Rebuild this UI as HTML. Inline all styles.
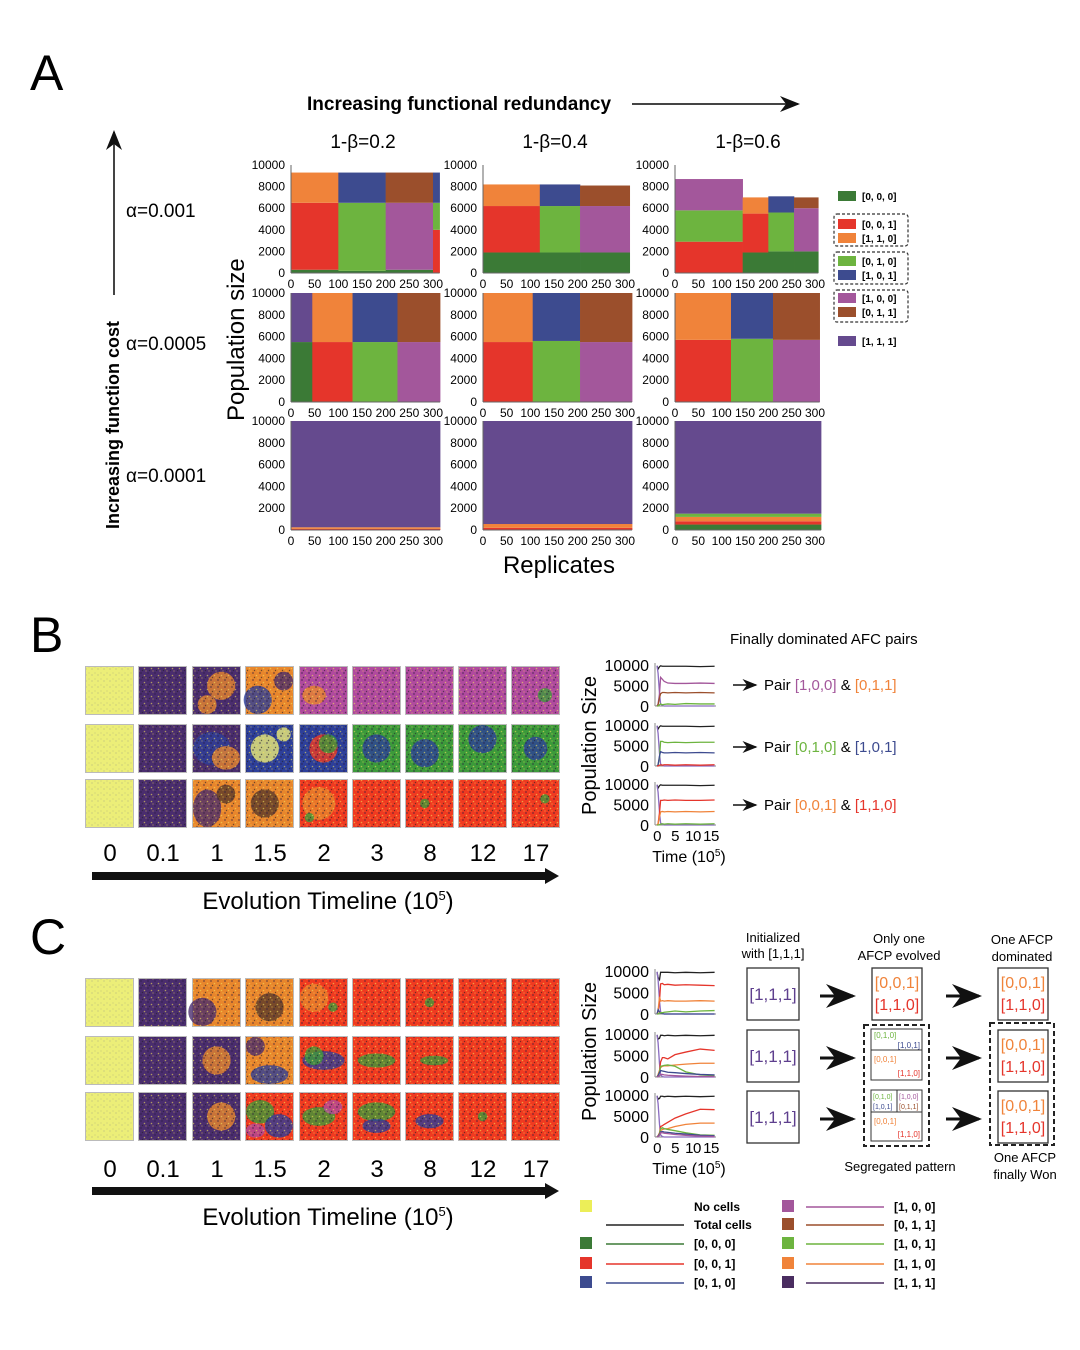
<!DOCTYPE html>
<html><head><meta charset="utf-8"><style>
body{margin:0;background:#fff}
svg{display:block;font-family:"Liberation Sans",sans-serif}
</style></head><body>
<svg id="fig" width="1080" height="1350" viewBox="0 0 1080 1350" xmlns="http://www.w3.org/2000/svg">
<defs>
<pattern id="spk" width="7" height="7" patternUnits="userSpaceOnUse"><circle cx="1" cy="1" r="0.9" fill="#2a1a40"/><circle cx="4.5" cy="3.5" r="0.8" fill="#f3e35a"/><circle cx="2.5" cy="5.5" r="0.7" fill="#222"/><circle cx="6" cy="6" r="0.6" fill="#f2d45a"/></pattern>
<pattern id="spkY" width="6" height="6" patternUnits="userSpaceOnUse"><circle cx="2" cy="3" r="0.5" fill="#888"/><circle cx="5" cy="1" r="0.4" fill="#777"/></pattern>
<marker id="ah" markerWidth="10" markerHeight="8" refX="9" refY="4" orient="auto"><path d="M0,0 L10,4 L0,8 L3,4 Z" fill="#111"/></marker>
</defs>
<g id="static">
<text x="30" y="90" font-size="50">A</text>
<text x="30" y="652" font-size="50">B</text>
<text x="30" y="954" font-size="50">C</text>
<text x="307" y="110" font-size="19" font-weight="bold">Increasing functional redundancy</text>
<line x1="632" y1="104" x2="798" y2="104" stroke="#444" stroke-width="2" marker-end="url(#ah)"/>
<line x1="114" y1="295" x2="114" y2="132" stroke="#444" stroke-width="2" marker-end="url(#ah)"/>
<text transform="translate(119,529) rotate(-90)" font-size="18" font-weight="bold">Increasing function cost</text>
<text x="126" y="217" font-size="19">α=0.001</text>
<text x="126" y="350" font-size="19">α=0.0005</text>
<text x="126" y="482" font-size="19">α=0.0001</text>
<text x="363" y="148" font-size="19" text-anchor="middle">1-β=0.2</text>
<text x="555" y="148" font-size="19" text-anchor="middle">1-β=0.4</text>
<text x="748" y="148" font-size="19" text-anchor="middle">1-β=0.6</text>
<text transform="translate(244,421) rotate(-90)" font-size="24">Population size</text>
<text x="559" y="573" font-size="24" text-anchor="middle">Replicates</text>
<text x="730" y="644" font-size="15">Finally dominated AFC pairs</text>
<text x="773" y="942" font-size="13" text-anchor="middle">Initialized</text>
<text x="773" y="958" font-size="13" text-anchor="middle">with [1,1,1]</text>
<text x="899" y="943" font-size="13" text-anchor="middle">Only one</text>
<text x="899" y="960" font-size="13" text-anchor="middle">AFCP evolved</text>
<text x="1022" y="944" font-size="13" text-anchor="middle">One AFCP</text>
<text x="1022" y="961" font-size="13" text-anchor="middle">dominated</text>
<text x="900" y="1171" font-size="13" text-anchor="middle">Segregated pattern</text>
<text x="1025" y="1162" font-size="13" text-anchor="middle">One AFCP</text>
<text x="1025" y="1179" font-size="13" text-anchor="middle">finally Won</text>
</g>
<g id="dyn"></g>
</svg>
<script>
// ---------- Panel A data ----------
const typeColors={d:'#3b7a36',r:'#e5352b',o:'#f0833a',g:'#6db43f',b:'#3d4b8f',m:'#a3579b',n:'#9b4f2c',p:'#654a8e'};
const aYTicks=[0,2000,4000,6000,8000,10000];
const aXTicks=[0,50,100,150,200,250,300];
const edgesR1C1=[0,100,200,300,314];
const layersR1C1=[[['d',300],['r',6200],['o',2800]],[['d',200],['g',6300],['b',2800]],[['d',300],['m',6200],['n',2800]],[['r',4000],['g',2500],['b',2800]]];
const edgesR1C2=[0,120,205,310];
const layersR1C2=[[['d',1900],['r',4300],['o',2000]],[['d',1900],['g',4300],['b',2000]],[['d',1900],['m',4300],['n',1900]]];
const edgesR1C3=[0,145,200,255,307];
const layersR1C3=[[['r',2900],['g',2900],['m',2900]],[['d',1900],['r',3600],['o',1500]],[['d',2000],['g',3600],['b',1500]],[['d',2000],['m',4000],['n',1000]]];
const edgesR2C1=[0,45,130,225,315];
const layersR2C1=[[['d',5500],['p',4500]],[['r',5500],['o',4500]],[['g',5500],['b',4500]],[['m',5500],['n',4500]]];
const edgesR2C2=[0,105,205,315];
const layersR2C2=[[['r',5500],['o',4500]],[['g',5600],['b',4400]],[['m',5500],['n',4500]]];
const edgesR2C3=[0,120,210,310];
const layersR2C3=[[['r',5700],['o',4300]],[['g',5800],['b',4200]],[['m',5700],['n',4300]]];
const edgesR3C1=[0,315];
const layersR3C1=[[['r',100],['o',150],['p',9750]]];
const edgesR3C2=[0,315];
const layersR3C2=[[['r',200],['o',350],['p',9450]]];
const edgesR3C3=[0,313];
const layersR3C3=[[['d',500],['r',300],['o',400],['g',300],['p',8500]]];

// ---------- mini line chart data ----------
const miniT=[0,0.3,0.7,1,1.5,2,3,5,8,12,16];
const miniYTicks=[0,5000,10000];
const miniXTicks=[0,5,10,15];
const lineColors={total:'#222',d:'#3b7a36',r:'#e5352b',o:'#f0833a',g:'#6db43f',b:'#3d4b8f',m:'#a3579b',n:'#9b4f2c',p:'#8a6cc0'};
const b1={total:[9800,9000,9600,9800,9700,9700,9700,9700,9700,9600,9700],p:[9800,8000,3000,500,100,0,0,0,0,0,0],m:[0,500,3000,7000,6500,6000,5600,5500,5500,5600,5500],n:[0,300,2000,3000,3300,3300,3200,3300,3200,3300,3200],g:[0,0,300,500,300,400,500,400,600,500,500]};
const b2={total:[9800,9000,9600,9800,9700,9700,9700,9700,9700,9600,9700],p:[9800,8000,3000,500,100,0,0,0,0,0,0],g:[0,300,2000,6000,6000,5800,5700,5800,5700,5800,5800],b:[0,300,2500,3500,3300,3200,3200,3300,3200,3300,3200],r:[0,0,200,300,200,300,300,200,300,200,300]};
const b3={total:[9800,9000,9600,9800,9700,9700,9700,9700,9700,9600,9700],p:[9800,8000,3000,500,100,0,0,0,0,0,0],r:[0,300,3000,6000,6000,6100,6000,6100,6000,6000,6100],o:[0,300,2000,3200,3300,3200,3300,3200,3300,3200,3300],g:[0,0,100,200,300,200,300,200,300,200,300]};
const c1={total:[9800,8500,8000,9700,9700,9700,9700,9600,9700,9600,9700],p:[9800,8000,3000,500,100,0,0,0,0,0,0],r:[0,500,3000,7000,7100,6800,6900,6700,6800,6700,6600],o:[0,800,4000,3000,3100,3000,3100,3000,3000,3100,3000],b:[0,1000,500,200,100,0,0,0,0,0,0],g:[0,0,200,300,300,400,500,700,500,700,800]};
const c2={total:[9800,8800,9000,9700,9700,9600,9700,9600,9700,9600,9700],p:[9800,8000,3000,500,100,0,0,0,0,0,0],r:[0,500,1500,3500,4500,4500,4200,5200,5800,6500,6200],o:[0,500,1500,2200,2500,2600,2600,2800,3000,3200,3200],g:[0,300,1200,2500,2600,2700,2800,2500,1200,500,300],b:[0,300,1000,1500,1400,1300,1100,1000,800,600,500],m:[0,100,300,600,600,500,400,300,200,100,100]};
const c3={total:[9800,9000,9200,9700,9700,9600,9700,9600,9700,9600,9700],p:[9800,8000,3000,500,100,0,0,0,0,0,0],r:[0,300,1000,2500,2700,3000,3500,4500,5500,6600,6500],o:[0,300,800,1500,1800,1900,2000,2500,3000,3300,3300],g:[0,200,800,2000,2200,2000,1800,1500,1000,500,400],b:[0,200,600,1200,1300,1200,1100,900,700,400,300],m:[0,100,400,1000,1000,900,800,600,400,200,100]};

const NS='http://www.w3.org/2000/svg';
const root=document.getElementById('dyn');
function mk(tag,attrs,parent){const e=document.createElementNS(NS,tag);for(const k in attrs)e.setAttribute(k,attrs[k]);(parent||root).appendChild(e);return e;}
function txt(s,attrs,parent){const e=mk('text',attrs,parent);e.textContent=s;return e;}

// ---------- Panel A ----------
const colX0=[291,483,675], colPx=[0.4733,0.4733,0.4667];
const rowTop=[165,293,421], rowBot=[273,402,530];
const aEdges=[[edgesR1C1,edgesR1C2,edgesR1C3],[edgesR2C1,edgesR2C2,edgesR2C3],[edgesR3C1,edgesR3C2,edgesR3C3]];
const aLayers=[[layersR1C1,layersR1C2,layersR1C3],[layersR2C1,layersR2C2,layersR2C3],[layersR3C1,layersR3C2,layersR3C3]];
for(let r=0;r<3;r++)for(let c=0;c<3;c++){
  const g=mk('g',{});
  
  
  const xs=v=>colX0[c]+v*colPx[c];
  const ys=v=>rowBot[r]-v*(rowBot[r]-rowTop[r])/10000;
  const E=aEdges[r][c], L=aLayers[r][c];
  for(let s=0;s<L.length;s++){
    let cum=0;
    for(const [t,v] of L[s]){
      const rect=mk('rect',{x:xs(E[s]),y:ys(cum+v),width:xs(E[s+1])-xs(E[s])+0.3,height:ys(cum)-ys(cum+v),fill:typeColors[t]},g);
      
      
      cum+=v;
    }
  }
  mk('line',{x1:colX0[c],y1:rowTop[r],x2:colX0[c],y2:rowBot[r],stroke:'#666','stroke-width':1},g);
  mk('line',{x1:colX0[c],y1:rowBot[r],x2:xs(E[E.length-1]),y2:rowBot[r],stroke:'#666','stroke-width':1},g);
  for(const t of aYTicks){const l=txt(String(t),{x:colX0[c]-6,y:ys(t)+4,'font-size':12,'text-anchor':'end'},g);
    
    }
  for(const t of aXTicks){const l=txt(String(t),{x:xs(t),y:rowBot[r]+15,'font-size':12,'text-anchor':'middle'},g);
    
    }
}
// Panel A legend
const legA=[['d','[0, 0, 0]',196],['r','[0, 0, 1]',224],['o','[1, 1, 0]',238],['g','[0, 1, 0]',261],['b','[1, 0, 1]',275],['m','[1, 0, 0]',298],['n','[0, 1, 1]',312],['p','[1, 1, 1]',341]];
for(const [t,lab,y] of legA){
  const s=mk('rect',{x:838,y:y-5,width:18,height:10,fill:typeColors[t]});
  
  
  const l=txt(lab,{x:862,y:y+4,'font-size':10,'font-weight':'bold'});
  
  
}
for(const y of [214,252,290]){const b=mk('rect',{x:834,y:y,width:74,height:32,fill:'none',stroke:'#333','stroke-dasharray':'3,2','stroke-width':1.2,rx:3});
  
  }

// ---------- Tiles ----------
const tileX=[86,139,193,246,300,353,406,459,512];
const Y='#ecee78',P='#4a2d6e',O='#e8862c',R='#f03a20',G='#3c9a3a',B='#2d3f9a',M='#b04a9e',K='#5a3a2a';
const tilesB=[
 [[Y],[P],[P,[O,.6,.4,.3,.3],[O,.3,.8,.2,.2]],[O,[B,.25,.7,.3,.3],[P,.8,.3,.2,.2]],[M,[O,.3,.6,.25,.2]],[M],[M],[M],[M,[G,.7,.6,.15,.15]]],
 [[Y],[P],[P,[B,.4,.5,.4,.35],[O,.7,.7,.3,.25]],[B,[Y,.4,.5,.3,.3],[Y,.8,.2,.15,.15]],[B,[R,.5,.5,.3,.3],[G,.6,.4,.2,.2]],[G,[B,.5,.5,.3,.3]],[G,[B,.4,.6,.3,.3]],[G,[B,.5,.3,.3,.3]],[G,[B,.5,.5,.25,.25]]],
 [[Y],[P],[O,[P,.3,.6,.3,.4],[K,.7,.3,.2,.2]],[O,[K,.4,.5,.3,.3]],[R,[O,.4,.5,.35,.35],[G,.2,.8,.1,.1]],[R],[R,[G,.4,.5,.1,.1]],[R],[R,[G,.7,.4,.1,.1]]]];
const tilesC=[
 [[Y],[P],[O,[P,.2,.7,.3,.3]],[O,[K,.5,.6,.3,.3]],[R,[O,.3,.4,.3,.3],[G,.7,.6,.1,.1]],[R],[R,[G,.5,.5,.1,.1]],[R],[R]],
 [[Y],[P],[P,[O,.5,.5,.3,.3]],[O,[B,.5,.8,.4,.2],[P,.2,.2,.2,.2]],[R,[B,.5,.5,.45,.2],[G,.3,.4,.2,.2]],[R,[G,.5,.5,.4,.15]],[R,[G,.6,.5,.3,.1]],[R],[R]],
 [[Y],[P],[P,[O,.6,.5,.3,.3]],[R,[G,.3,.4,.3,.25],[B,.7,.7,.3,.25],[M,.2,.8,.2,.15]],[R,[G,.4,.5,.35,.2],[M,.7,.3,.2,.15]],[R,[G,.5,.4,.4,.2],[B,.5,.7,.3,.15]],[R,[B,.5,.6,.3,.15]],[R,[G,.5,.5,.1,.1]],[R]]];
function drawTiles(spec,ys,pre){
  for(let r=0;r<3;r++)for(let c=0;c<9;c++){
    const g=mk('g',{});
    
    
    const x=tileX[c],y=ys[r],s=47,sp=spec[r][c];
    mk('rect',{x:x-1,y:y-1,width:s+2,height:s+2,fill:'#bbb'},g);
    mk('rect',{x:x,y:y,width:s,height:s,fill:sp[0]},g);
    for(let i=1;i<sp.length;i++){const [col,cx,cy,rx,ry]=sp[i];mk('ellipse',{cx:x+cx*s,cy:y+cy*s,rx:rx*s,ry:ry*s,fill:col,opacity:0.8},g);}
    mk('rect',{x:x,y:y,width:s,height:s,fill:sp[0]===Y?'url(#spkY)':'url(#spk)',opacity:sp[0]===Y?0.8:0.6},g);
  }
}
drawTiles(tilesB,[667,725,780],'b');
drawTiles(tilesC,[979,1037,1093],'c');

// timeline labels
const tlLabels=['0','0.1','1','1.5','2','3','8','12','17'];
for(const [yl,ya,yt,pre] of [[861,876,909,'b'],[1177,1191,1225,'c']]){
  for(let i=0;i<9;i++){const l=txt(tlLabels[i],{x:tileX[i]+24,y:yl,'font-size':24,'text-anchor':'middle'});
    
    }
  const a=mk('line',{x1:92,y1:ya,x2:548,y2:ya,stroke:'#111','stroke-width':8});
  
  
  mk('path',{d:`M545,${ya-8} L559,${ya} L545,${ya+8} Z`,fill:'#111'});
  const t=mk('text',{x:328,y:yt,'font-size':24,'text-anchor':'middle'});
  
  
  t.innerHTML='Evolution Timeline (10<tspan dy="-9" font-size="13">5</tspan><tspan dy="9">)</tspan>';
}

// ---------- mini line charts ----------
function miniChart(data,top,bot,name,showX){
  const g=mk('g',{});
  
  
  const x0=657,k=3.6;
  const xs=t=>x0+t*k, ys=v=>bot-v*(bot-top)/10000;
  mk('line',{x1:x0-2,y1:top-2,x2:x0-2,y2:bot,stroke:'#888'},g);
  mk('line',{x1:x0-2,y1:bot,x2:716,y2:bot,stroke:'#888'},g);
  for(const t of miniYTicks){const l=txt(String(t),{x:x0-8,y:ys(t)+6,'font-size':16,'text-anchor':'end'},g);
    
    }
  for(const key in data){
    const pts=data[key].map((v,i)=>Math.min(xs(miniT[i]),716)+','+ys(v)).join(' ');
    const pl=mk('polyline',{points:pts,fill:'none',stroke:lineColors[key],'stroke-width':1.3},g);
    
    
  }
  if(showX){
    for(const t of miniXTicks){const l=txt(String(t),{x:xs(t),y:bot+16,'font-size':15,'text-anchor':'middle','letter-spacing':'-0.5'},g);
      
      }
    const tt=mk('text',{x:689,y:bot+37,'font-size':16,'text-anchor':'middle'},g);
    
    
    tt.innerHTML='Time (10<tspan dy="-6" font-size="10">5</tspan><tspan dy="6">)</tspan>';
  }
}
miniChart(b1,665,706,'b-line-chart-1',false);
miniChart(b2,725,766,'b-line-chart-2',false);
miniChart(b3,784,825,'b-line-chart-3',true);
miniChart(c1,971,1014,'c-line-chart-1',false);
miniChart(c2,1034,1077,'c-line-chart-2',false);
miniChart(c3,1095,1137,'c-line-chart-3',true);
for(const [cy,pre] of [[745,'b'],[1051,'c']]){const t=txt('Population Size',{transform:`translate(596,${cy+70}) rotate(-90)`,'font-size':20});
  
  }

// pair labels B
const pairs=[[690,'#a3579b','[1,0,0]','#f0833a','[0,1,1]'],[752,'#6db43f','[0,1,0]','#3d4b8f','[1,0,1]'],[810,'#f0833a','[0,0,1]','#e5352b','[1,1,0]']];
for(const [y,c1c,l1,c2c,l2] of pairs){
  const a=mk('line',{x1:733,y1:y-5,x2:756,y2:y-5,stroke:'#111','stroke-width':1.5,'marker-end':'url(#ah)'});
  
  
  const t=mk('text',{x:764,y:y,'font-size':15});
  
  
  t.innerHTML=`Pair <tspan fill="${c1c}">${l1}</tspan> &amp; <tspan fill="${c2c}">${l2}</tspan>`;
}

// ---------- Panel C diagram ----------
const rowY=[968,1030,1091];
for(let i=0;i<3;i++){
  const y=rowY[i];
  const b=mk('rect',{x:747,y:y,width:52,height:52,fill:'none',stroke:'#333','stroke-width':1.3});
  
  
  const t=txt('[1,1,1]',{x:773,y:y+32,'font-size':17,fill:'#5e3f8e','text-anchor':'middle'});
  
  
  for(const ax of [820,946]){const a=mk('line',{x1:ax,y1:y+28,x2:ax+33,y2:y+28,stroke:'#111','stroke-width':3,'marker-end':'url(#ah)'});
    
    }
  const rb=mk('rect',{x:998,y:y,width:50,height:52,fill:'none',stroke:'#333','stroke-width':1.3});
  
  
  const l1=txt('[0,0,1]',{x:1023,y:y+20,'font-size':16,fill:'#f0833a','text-anchor':'middle'});
  
  
  const l2=txt('[1,1,0]',{x:1023,y:y+42,'font-size':16,fill:'#e5352b','text-anchor':'middle'});
  
  
}
const mb=mk('rect',{x:872,y:968,width:50,height:52,fill:'none',stroke:'#333','stroke-width':1.3});


txt('[0,0,1]',{x:897,y:988,'font-size':16,fill:'#f0833a','text-anchor':'middle'});
txt('[1,1,0]',{x:897,y:1010,'font-size':16,fill:'#e5352b','text-anchor':'middle'});
for(const [x,y,w,h] of [[864,1025,65,121],[990,1023,64,122]]){const d=mk('rect',{x:x,y:y,width:w,height:h,fill:'none',stroke:'#222','stroke-width':2,'stroke-dasharray':'5,3'});
  
  }
// segregated mini boxes
mk('rect',{x:871,y:1029,width:51,height:51,fill:'none',stroke:'#333'});
mk('line',{x1:871,y1:1050,x2:922,y2:1050,stroke:'#333'});
txt('[0,1,0]',{x:874,y:1038,'font-size':8,fill:'#6db43f'});
txt('[1,0,1]',{x:920,y:1048,'font-size':8,fill:'#3d4b8f','text-anchor':'end'});
txt('[0,0,1]',{x:874,y:1062,'font-size':8,fill:'#f0833a'});
txt('[1,1,0]',{x:920,y:1076,'font-size':8,fill:'#e5352b','text-anchor':'end'});
mk('rect',{x:871,y:1090,width:51,height:51,fill:'none',stroke:'#333'});
mk('line',{x1:871,y1:1112,x2:922,y2:1112,stroke:'#333'});
mk('line',{x1:897,y1:1090,x2:897,y2:1112,stroke:'#333'});
txt('[0,1,0]',{x:873,y:1099,'font-size':7,fill:'#6db43f'});
txt('[1,0,1]',{x:873,y:1109,'font-size':7,fill:'#3d4b8f'});
txt('[1,0,0]',{x:899,y:1099,'font-size':7,fill:'#a3579b'});
txt('[0,1,1]',{x:899,y:1109,'font-size':7,fill:'#9b4f2c'});
txt('[0,0,1]',{x:874,y:1124,'font-size':8,fill:'#f0833a'});
txt('[1,1,0]',{x:920,y:1137,'font-size':8,fill:'#e5352b','text-anchor':'end'});

// ---------- bottom legend ----------
const legSw=[['#ecee58',null,'No cells',1206],[null,'#222','Total cells',1224],['#3b7a36','#3b7a36','[0, 0, 0]',1243],['#e5352b','#e5352b','[0, 0, 1]',1263],['#3d4b8f','#3d4b8f','[0, 1, 0]',1282]];
const legSw2=[['#a3579b','[1, 0, 0]',1206],['#9b4f2c','[0, 1, 1]',1224],['#6db43f','[1, 0, 1]',1243],['#f0833a','[1, 1, 0]',1263],['#4a2d60','[1, 1, 1]',1282]];
for(const [sq,ln,lab,y] of legSw){
  if(sq){const s=mk('rect',{x:580,y:y-6,width:12,height:12,fill:sq});
    
    }
  if(ln){mk('line',{x1:606,y1:y+1,x2:684,y2:y+1,stroke:ln,'stroke-width':1.5});}
  const l=txt(lab,{x:694,y:y+5,'font-size':12,'font-weight':'bold'});
  
  
}
for(const [c,lab,y] of legSw2){
  const s=mk('rect',{x:782,y:y-6,width:12,height:12,fill:c});
  
  
  mk('line',{x1:806,y1:y+1,x2:884,y2:y+1,stroke:c,'stroke-width':1.5});
  const l=txt(lab,{x:894,y:y+5,'font-size':12,'font-weight':'bold'});
  
  
}
</script>
</body></html>
